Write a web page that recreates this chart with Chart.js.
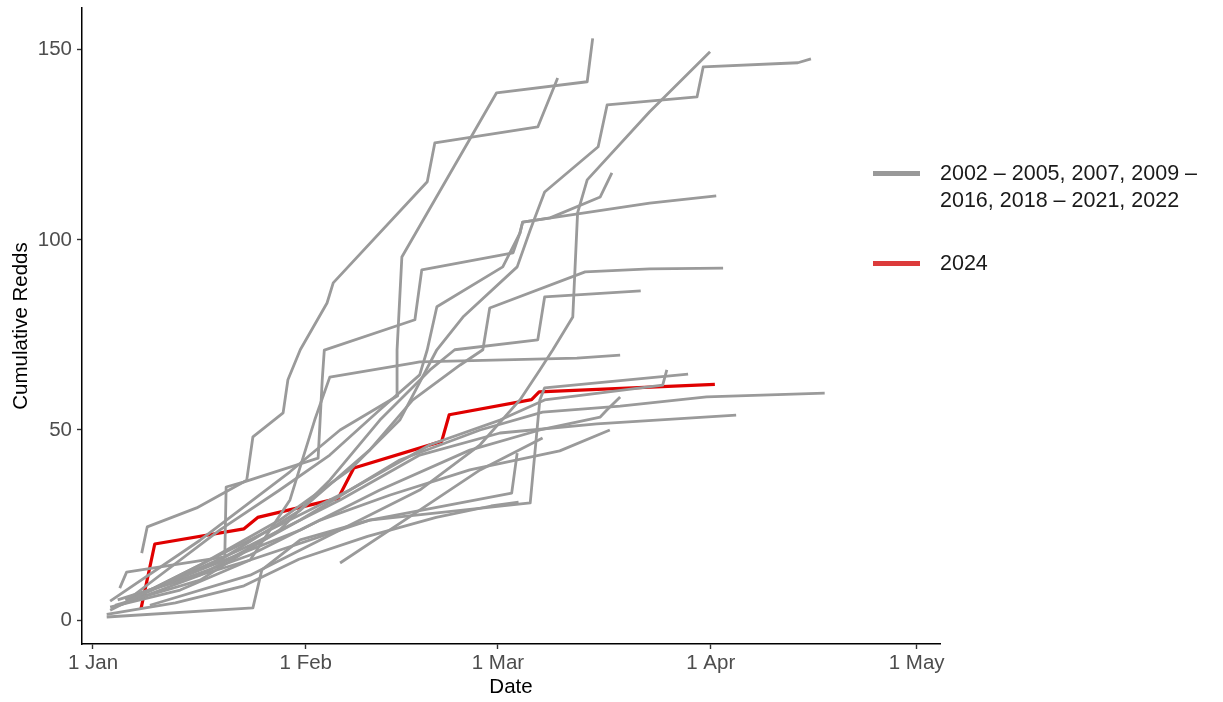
<!DOCTYPE html>
<html>
<head>
<meta charset="utf-8">
<script src="https://cdn.jsdelivr.net/npm/chart.js@4/dist/chart.umd.min.js"></script>
<style>
html,body{margin:0;padding:0;background:#fff;}
#wrap{position:relative;width:1223px;height:702px;overflow:hidden;}
#c{position:absolute;left:0;top:0;}
.lg{position:absolute;font-family:"Liberation Sans",Arial,sans-serif;font-size:21.5px;color:#1a1a1a;line-height:27px;white-space:nowrap;}
.key{position:absolute;height:5px;width:47px;}
</style>
</head>
<body>
<div id="wrap"><canvas id="c" width="1223" height="702"></canvas></div>
<script>
// ---- axis ticks (day of year, Jan 1 = 0) ----
const tickDays = [0, 31, 59, 90, 120];
const tickLabels = ["1 Jan", "1 Feb", "1 Mar", "1 Apr", "1 May"];
const yTicks = [0, 50, 100, 150];

// ---- legend ----
const legendGrey = ["2002 – 2005, 2007, 2009 –", "2016, 2018 – 2021, 2022"];
const legendRed = ["2024"];

// ---- series: [day of year, cumulative redds] ----
const yr2024 = [[7,3],[9,20],[22,24],[24,27],[35.7,32],[38,40],[50.8,47],[51.9,54],[63.9,58],[65,60],[90.6,62]];

const grey01 = [[2.5,5],[15.6,21],[28.7,39],[36,50],[44.4,59],[44.3,71],[45,95.5],[58.8,138.7],[72,141.6],[72.8,153]];
const grey02 = [[7.1,17.6],[7.9,24.5],[15.1,29.5],[22.4,36.8],[23.3,48.2],[27.7,54.5],[28.4,63.2],[30.2,71.1],[34.1,83.4],[35,88.7],[48.7,115.3],[49.8,125.5],[64.8,129.7],[67.7,142.6]];
const grey03 = [[8.3,3.9],[22.9,11.8],[36,23.7],[47.6,34.2],[56.4,46.1],[62.2,57.9],[65.1,65.8],[67,71.1],[69.9,79.7],[70.6,107.1],[72,115.8],[81.1,133.7],[89.9,149.5]];
const grey04 = [[2.5,2.6],[15.6,14.5],[27.2,26.3],[37.4,39.5],[44.7,52.6],[50.1,71.1],[53.9,79.7],[61.8,92.9],[63.7,102.6],[65.8,112.6],[73.6,124.5],[74.9,135.5],[88,137.6],[88.9,145.5],[102.7,146.6],[104.6,147.6]];
const grey05 = [[5.4,5.8],[18.5,23.7],[27.2,34.2],[34.5,43.4],[41.8,55.3],[47.6,64.5],[48.7,71.1],[50.1,82.4],[59.7,92.9],[62.2,101.8],[62.6,104.7],[66.6,105.8],[73.9,111.3],[75.6,117.6]];
const grey06 = [[3.9,8.4],[4.9,12.6],[19.2,16.6],[19.4,35],[21.9,36.3],[32.8,42.6],[33.4,63.2],[33.7,71],[46.9,79],[47.9,92.1],[61.2,96.6],[62.2,101.8],[62.6,104.7],[81.1,109.7],[90.8,111.6]];
const grey07 = [[5.4,5.3],[18.5,15.8],[30.2,28.9],[40.3,44.7],[46.6,57.9],[53.5,67.1],[56.8,71.1],[57.8,82.1],[71.7,91.6],[81.1,92.4],[91.8,92.6]];
const grey08 = [[3.2,3.9],[15.6,10.5],[27.2,23.7],[34.5,36.8],[41.8,52.6],[49.1,65.8],[52.7,71.1],[64.8,73.7],[65.8,85],[79.8,86.6]];
const grey09 = [[2.5,3.4],[12.7,7.9],[22.9,15.8],[28.7,31.6],[32.3,52.6],[34.5,63.9],[46.6,67.6],[47.6,67.9],[70.5,68.9],[76.8,69.7]];
const grey10 = [[8.3,7.9],[22.9,15.8],[40.3,26.3],[63.7,30.8],[65.1,57.9],[65.8,61.1],[86.7,64.7]];
const grey11 = [[5.4,5.3],[22.9,21.1],[37.4,34.2],[49.1,46.1],[59.3,52.6],[65.8,57.9],[83,61.8],[83.6,65.8]];
const grey12 = [[3.9,3.9],[15.6,11.8],[30.2,26.3],[44.7,42.1],[56.4,50],[65.5,54.7],[76.8,56.3],[89.4,58.7],[106.6,59.7]];
const grey13 = [[6.8,6.6],[22.9,19.7],[36,31.6],[47.6,43.4],[59.3,49.2],[73.4,51.6],[93.7,53.9]];
const grey14 = [[4.7,5.3],[15.6,13.2],[30.2,23.7],[41.8,34.2],[54.9,44.7],[65.1,50],[73.9,53.4],[74.9,55.3],[76.8,58.7]];
const grey15 = [[36,15],[47.6,28.9],[56.4,39.5],[65.5,47.9]];
const grey16 = [[2,0.8],[23.3,3.2],[24.6,13.2],[30.2,21.1],[40.3,26.3],[61,33.4],[61.8,43.9]];
const grey17 = [[3.6,5.3],[12.7,10.5],[22.9,17.1],[33.1,26.3],[43.3,32.9],[54.9,39.5],[68,44.5],[75.3,50]];
const grey18 = [[2,1.5],[12,4.5],[22,9],[30,16],[40,22],[50,27],[58,30],[62,31]];

const greySeries = [grey01,grey02,grey03,grey04,grey05,grey06,grey07,grey08,grey09,grey10,grey11,grey12,grey13,grey14,grey15,grey16,grey17,grey18];

const FONT = '"Liberation Sans", Arial, sans-serif';
const GREY = '#9a9a9a';
const RED = '#e00000';

const toXY = arr => arr.map(p => ({x: p[0], y: p[1]}));
const datasets = greySeries.map((s, i) => ({
  label: 'grey' + (i + 1), data: toXY(s), borderColor: GREY, borderWidth: 2.8,
  pointRadius: 0, tension: 0, fill: false
}));
datasets.push({label: '2024', data: toXY(yr2024), borderColor: RED, borderWidth: 3.2,
  pointRadius: 0, tension: 0, fill: false});

new Chart(document.getElementById('c').getContext('2d'), {
  type: 'line',
  data: {datasets},
  options: {
    responsive: false, animation: false, events: [],
    layout: {padding: {left: 0, right: 283, top: 8, bottom: 0}},
    plugins: {legend: {display: false}, tooltip: {enabled: false}},
    elements: {line: {borderJoinStyle: 'round', borderCapStyle: 'butt'}},
    scales: {
      x: {
        type: 'linear', min: -1.6, max: 123.4,
        afterBuildTicks: s => { s.ticks = tickDays.map(v => ({value: v})); },
        afterFit: s => { s.height = 58; s.paddingLeft = 0; s.paddingRight = 0; },
        ticks: {callback: (v, i) => tickLabels[i], color: '#4d4d4d', font: {family: FONT, size: 20.5},
                padding: 2, autoSkip: false, maxRotation: 0},
        grid: {drawOnChartArea: false, drawTicks: true, tickLength: 5, tickColor: '#333', tickWidth: 1.4},
        border: {display: true, color: '#000', width: 1.5},
        title: {display: true, text: 'Date', color: '#000', font: {family: FONT, size: 20.5}, padding: {top: 0, bottom: 2}}
      },
      y: {
        type: 'linear', min: -6.3, max: 161,
        afterBuildTicks: s => { s.ticks = yTicks.map(v => ({value: v})); },
        afterFit: s => { s.width = 82; s.paddingTop = 0; s.paddingBottom = 0; },
        ticks: {color: '#4d4d4d', font: {family: FONT, size: 20.5}, padding: 5},
        grid: {drawOnChartArea: false, drawTicks: true, tickLength: 5, tickColor: '#333', tickWidth: 1.4},
        border: {display: true, color: '#000', width: 1.5},
        title: {display: true, text: 'Cumulative Redds', color: '#000', font: {family: FONT, size: 20.5}, padding: {top: 9, bottom: 0}}
      }
    }
  }
});

// ---- legend (HTML text) ----
const wrap = document.getElementById('wrap');
function addKey(color, top) {
  const k = document.createElement('div');
  k.className = 'key'; k.style.left = '873px'; k.style.top = top + 'px'; k.style.background = color;
  wrap.appendChild(k);
}
function addText(lines, top) {
  const t = document.createElement('div');
  t.className = 'lg'; t.style.left = '940px'; t.style.top = top + 'px';
  t.innerHTML = lines.join('<br>');
  wrap.appendChild(t);
}
addKey('#999999', 171); addText(legendGrey, 160);
addKey('#dc3b3b', 261); addText(legendRed, 250);
</script>
</body>
</html>
